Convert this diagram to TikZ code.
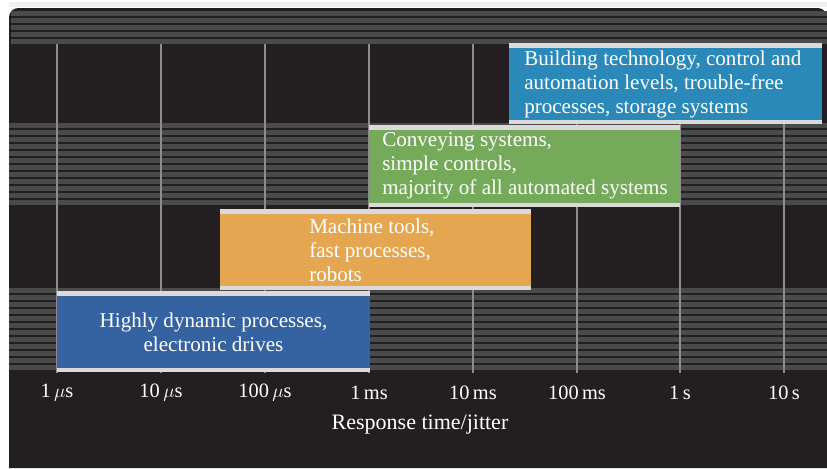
\documentclass[tikz,border=0pt]{standalone}
\usepackage{fontspec}
\setmainfont{Liberation Serif}
\usepackage{tikz}
\usetikzlibrary{positioning}

\definecolor{panelbg}{HTML}{231F20}
\definecolor{stripegray}{HTML}{4B4A4A}
\definecolor{gridgray}{HTML}{8C8C8C}
\definecolor{buildblue}{HTML}{2A89B9}
\definecolor{conveygreen}{HTML}{74AA5A}
\definecolor{machorange}{HTML}{E5A652}
\definecolor{drivesblue}{HTML}{3562A0}
\definecolor{edgegray}{HTML}{DADADA}

\tikzset{
  stripe/.style={fill=stripegray},
  gridline/.style={draw=gridgray, line width=0.9},
  boxedge/.style={fill=edgegray},
  boxtext/.style={text=white, font=\fontsize{15.8}{18}\selectfont, inner sep=0pt},
  axislabel/.style={text=white, font=\fontsize{15.3}{17}\selectfont, inner sep=0pt}
}

\begin{document}
\begin{tikzpicture}[x=0.75pt,y=0.75pt,yscale=-1]
  \useasboundingbox (0,0) rectangle (827,468);
  \fill [white] (0,0) rectangle (827,468);
  \fill [gray!12] (9,2) rectangle (827,7);

  % dark panel
  \fill [panelbg] (9,468) {[rounded corners=7] -- (9,8) -- (827,8)} -- (827,468) -- cycle;

  % striped bands
  \foreach \s in {11,18,...,40} \fill [stripe] (11,\s) rectangle (827,\s+4.6);
  \foreach \s in {123,130,...,204} \fill [stripe] (9,\s) rectangle (827,\s+4.6);
  \foreach \s in {288,295,...,368} \fill [stripe] (9,\s) rectangle (827,\s+4.6);

  % time grid
  \foreach \gx in {57,161,265,369,473,577,680,784} \draw [gridline] (\gx,44) -- (\gx,373);

  % bars
  \fill [buildblue] (509,43) rectangle (822,124);
  \fill [boxedge] (509,43) rectangle (822,47.5);
  \fill [boxedge] (509,119.5) rectangle (822,124);

  \fill [conveygreen] (369,125) rectangle (680,207);
  \fill [boxedge] (369,125) rectangle (680,129.5);
  \fill [boxedge] (369,202.5) rectangle (680,207);

  \fill [machorange] (220,209) rectangle (531,290);
  \fill [boxedge] (220,209) rectangle (531,213.5);
  \fill [boxedge] (220,285.5) rectangle (531,290);

  \fill [drivesblue] (57,291) rectangle (370,372);
  \fill [boxedge] (57,291) rectangle (370,295.5);
  \fill [boxedge] (57,367.5) rectangle (370,372);

  \node [boxtext, align=left, anchor=west] (building) at (524,84) {Building technology, control and\\automation levels, trouble-free\\processes, storage systems};
  \node [boxtext, align=left, anchor=west] (conveying) at (382,165.5) {Conveying systems,\\simple controls,\\majority of all automated systems};
  \node [boxtext, align=left, anchor=west] (machine) at (309,250) {Machine tools,\\fast processes,\\robots};
  \node [boxtext, align=center] (drives) at (213.5,332) {Highly dynamic processes,\\electronic drives};

  % axis
  \node [axislabel] (t1us) at (57,393) {1\,$\mu$s};
  \node [axislabel] (t10us) at (161,393) {10\,$\mu$s};
  \node [axislabel] (t100us) at (265,393) {100\,$\mu$s};
  \node [axislabel] (t1ms) at (369,393) {1\,ms};
  \node [axislabel] (t10ms) at (473,393) {10\,ms};
  \node [axislabel] (t100ms) at (577,393) {100\,ms};
  \node [axislabel] (t1s) at (680,393) {1\,s};
  \node [axislabel] (t10s) at (784,393) {10\,s};
  \node [axislabel, font=\fontsize{16.5}{18}\selectfont] (xtitle) at (420,425) {Response time/jitter};
\end{tikzpicture}
\end{document}
